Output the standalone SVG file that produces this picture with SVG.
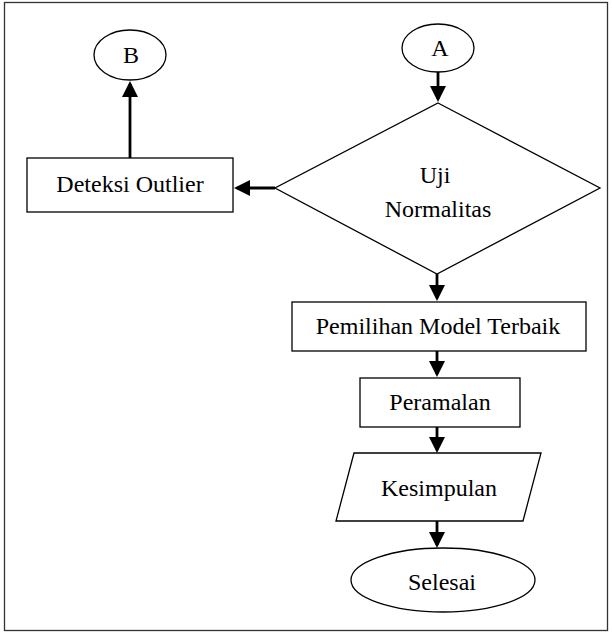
<svg xmlns="http://www.w3.org/2000/svg" width="612" height="633" viewBox="0 0 612 633">
<style>
.shape{fill:#fff;stroke:#000;stroke-width:1.3}
.lbl{font-family:"Liberation Serif","Times New Roman",serif;font-size:24px;fill:#000;text-anchor:middle}
.conn{stroke:#000;stroke-width:2.8;fill:none}
</style>
<defs>
<marker id="ah" markerUnits="userSpaceOnUse" viewBox="0 0 16 16" markerWidth="16" markerHeight="16" refX="13" refY="8" orient="auto">
<path d="M0,0 L16,8 L0,16 z" fill="#000"/>
</marker>
</defs>
<rect x="0" y="0" width="612" height="633" fill="#fff"/>
<rect x="4.5" y="2.5" width="603" height="628" fill="none" stroke="#333" stroke-width="1.3"/>
<g id="nodeB"><ellipse class="shape" cx="130" cy="55" rx="36" ry="25"/><text class="lbl" x="131" y="63">B</text></g>
<g id="nodeA"><ellipse class="shape" cx="438" cy="48" rx="36" ry="24"/><text class="lbl" x="440" y="56">A</text></g>
<g id="deteksi"><rect class="shape" x="27" y="158" width="206" height="54"/><text class="lbl" x="130" y="192">Deteksi Outlier</text></g>
<g id="uji"><polygon class="shape" points="438,103 600,188 437,274 275,188"/><text class="lbl" x="435" y="183">Uji</text><text class="lbl" x="438" y="217">Normalitas</text></g>
<g id="pemilihan"><rect class="shape" x="292" y="302" width="294" height="49"/><text class="lbl" x="438" y="334">Pemilihan Model Terbaik</text></g>
<g id="peramalan"><rect class="shape" x="360" y="378" width="160" height="49"/><text class="lbl" x="440" y="410">Peramalan</text></g>
<g id="kesimpulan"><polygon class="shape" points="354,453 541,453 523,521 336,521"/><text class="lbl" x="439" y="496">Kesimpulan</text></g>
<g id="selesai"><ellipse class="shape" cx="443" cy="580" rx="92" ry="32"/><text class="lbl" x="442" y="590">Selesai</text></g>
<g id="connectors">
<line class="conn" x1="130" y1="158" x2="130" y2="84" marker-end="url(#ah)"/>
<line class="conn" x1="438" y1="72" x2="438" y2="99" marker-end="url(#ah)"/>
<line class="conn" x1="275" y1="188" x2="237" y2="188" marker-end="url(#ah)"/>
<line class="conn" x1="437" y1="274" x2="437" y2="298" marker-end="url(#ah)"/>
<line class="conn" x1="437" y1="351" x2="437" y2="374" marker-end="url(#ah)"/>
<line class="conn" x1="437" y1="427" x2="437" y2="450" marker-end="url(#ah)"/>
<line class="conn" x1="437" y1="521" x2="437" y2="545" marker-end="url(#ah)"/>
</g>
</svg>
